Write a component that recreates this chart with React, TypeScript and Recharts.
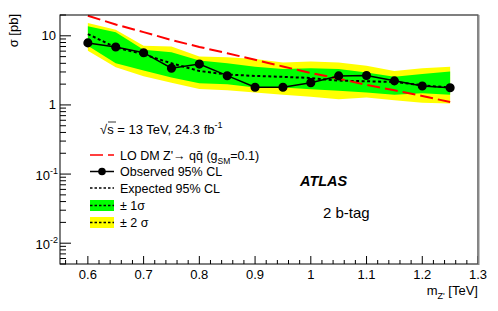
import React from 'react';
import { ComposedChart, Area, Line, XAxis, YAxis } from 'recharts';

const masses = [0.6, 0.65, 0.7, 0.75, 0.8, 0.85, 0.9, 0.95, 1.0, 1.05, 1.1, 1.15, 1.2, 1.25];
const observed = [7.9, 6.9, 5.7, 3.4, 3.9, 2.65, 1.8, 1.8, 2.1, 2.63, 2.67, 2.23, 1.88, 1.77];
const expected = [10.6, 6.8, 5.4, 4.0, 3.1, 2.75, 2.63, 2.55, 2.45, 2.25, 2.2, 2.15, 1.93, 1.78];
const oneSigmaUp = [13.7, 11.3, 6.3, 5.8, 4.4, 4.0, 3.56, 3.3, 3.4, 3.3, 2.95, 2.55, 2.8, 3.05];
const oneSigmaDown = [7.2, 4.0, 3.15, 2.5, 2.06, 2.0, 1.79, 1.79, 1.69, 1.6, 1.51, 1.4, 1.47, 1.4];
const twoSigmaUp = [15.3, 12.2, 7.2, 7.0, 5.0, 4.9, 4.6, 4.1, 4.25, 4.1, 3.7, 3.1, 3.4, 3.56];
const twoSigmaDown = [6.1, 3.5, 2.6, 2.1, 1.7, 1.63, 1.51, 1.4, 1.31, 1.21, 1.28, 1.17, 1.08, 1.05];
const theory = [19.5, 14.6, 11.3, 8.7, 6.9, 5.6, 4.5, 3.6, 2.9, 2.4, 1.95, 1.63, 1.35, 1.1];

const xMajor = [0.6, 0.7, 0.8, 0.9, 1.0, 1.1, 1.2, 1.3];
const xMajorLabels = ['0.6', '0.7', '0.8', '0.9', '1', '1.1', '1.2', '1.3'];
const xTicks = [0.56, 0.58, 0.6, 0.62, 0.64, 0.66, 0.68, 0.7, 0.72, 0.74, 0.76, 0.78, 0.8, 0.82, 0.84, 0.86, 0.88, 0.9,
  0.92, 0.94, 0.96, 0.98, 1.0, 1.02, 1.04, 1.06, 1.08, 1.1, 1.12, 1.14, 1.16, 1.18, 1.2, 1.22, 1.24, 1.26, 1.28, 1.3];
const yMajor = [0.01, 0.1, 1, 10];
const yTicks = [0.005, 0.006, 0.007, 0.008, 0.009, 0.01, 0.02, 0.03, 0.04, 0.05, 0.06, 0.07, 0.08, 0.09,
  0.1, 0.2, 0.3, 0.4, 0.5, 0.6, 0.7, 0.8, 0.9, 1, 2, 3, 4, 5, 6, 7, 8, 9, 10, 20];

const data = masses.map((m, i) => ({
  m,
  obs: observed[i],
  exp: expected[i],
  band1: [oneSigmaDown[i], oneSigmaUp[i]],
  band2: [twoSigmaDown[i], twoSigmaUp[i]],
  th: theory[i],
}));

const W = 498;
const H = 311;
const L = 60;
const R = 478;
const T = 15;
const B = 264;
const FONT = '"Liberation Sans", Arial, Helvetica, sans-serif';

const isMajor = (v: number, list: number[]) => list.some((t) => Math.abs(t - v) < 1e-9);

const BottomTick = (p: any) => {
  const v = p.payload.value;
  const x = p.payload.coordinate ?? p.x;
  const major = isMajor(v, xMajor);
  const idx = xMajor.findIndex((t) => Math.abs(t - v) < 1e-9);
  return (
    <g>
      <line x1={x} x2={x} y1={B} y2={B - (major ? 8 : 4)} stroke="#000" />
      {major && (
        <text x={x} y={B + 15} textAnchor="middle" fontSize={13} fontFamily={FONT} fill="#000">
          {xMajorLabels[idx]}
        </text>
      )}
    </g>
  );
};

const TopTick = (p: any) => {
  const v = p.payload.value;
  const x = p.payload.coordinate ?? p.x;
  const major = isMajor(v, xMajor);
  return <line x1={x} x2={x} y1={T} y2={T + (major ? 8 : 4)} stroke="#000" />;
};

const LeftTick = (p: any) => {
  const v = p.payload.value;
  const y = p.payload.coordinate ?? p.y;
  const major = isMajor(v, yMajor);
  let label: React.ReactNode = null;
  if (major) {
    if (v === 1) label = '1';
    else if (v === 10) label = '10';
    else {
      const e = Math.round(Math.log10(v));
      label = (
        <>
          10<tspan fontSize={9} dy={-6}>{e}</tspan>
        </>
      );
    }
  }
  const exp = major && v < 1;
  return (
    <g>
      <line x1={L} x2={L + (major ? 11 : 6)} y1={y} y2={y} stroke="#000" />
      {major && (
        <text x={exp ? 58 : 56} y={exp ? y + 6 : y + 4.5} textAnchor="end" fontSize={13} fontFamily={FONT} fill="#000">
          {label}
        </text>
      )}
    </g>
  );
};

const RightTick = (p: any) => {
  const v = p.payload.value;
  const y = p.payload.coordinate ?? p.y;
  const major = isMajor(v, yMajor);
  return <line x1={R} x2={R - (major ? 11 : 6)} y1={y} y2={y} stroke="#000" />;
};

const legendRows = [171.5, 188, 205.5, 222.5];

export default function App() {
  return (
    <div style={{ position: 'absolute', left: 0, top: 0, width: W, height: H, background: '#fff' }}>
      <ComposedChart width={W} height={H} data={data} margin={{ top: T, right: 0, bottom: 0, left: 0 }}>
        <XAxis
          dataKey="m"
          type="number"
          domain={[0.55, 1.3]}
          ticks={xTicks}
          interval={0}
          height={H - B}
          axisLine={false}
          tickLine={false}
          tick={<BottomTick />}
        />
        <XAxis
          xAxisId="top"
          orientation="top"
          dataKey="m"
          type="number"
          domain={[0.55, 1.3]}
          ticks={xTicks}
          interval={0}
          height={0}
          axisLine={false}
          tickLine={false}
          tick={<TopTick />}
        />
        <YAxis
          type="number"
          scale="log"
          domain={[0.005, 20]}
          ticks={yTicks}
          interval={0}
          width={L}
          axisLine={false}
          tickLine={false}
          tick={<LeftTick />}
        />
        <YAxis
          yAxisId="right"
          orientation="right"
          type="number"
          scale="log"
          domain={[0.005, 20]}
          ticks={yTicks}
          interval={0}
          width={W - R}
          axisLine={false}
          tickLine={false}
          tick={<RightTick />}
        />
        <Area type="linear" dataKey="band2" stroke="none" fill="#ffff00" fillOpacity={1} isAnimationActive={false} />
        <Area type="linear" dataKey="band1" stroke="none" fill="#00ff00" fillOpacity={1} isAnimationActive={false} />
        <Line type="linear" dataKey="exp" stroke="#000" strokeWidth={2} strokeDasharray="3 2.5" dot={false} isAnimationActive={false} />
        <Line type="linear" dataKey="th" stroke="#ff0000" strokeWidth={2} strokeDasharray="13 5" dot={false} isAnimationActive={false} />
        <Line
          type="linear"
          dataKey="obs"
          stroke="#000"
          strokeWidth={1.5}
          dot={{ r: 3.8, fill: '#000', stroke: '#000' }}
          isAnimationActive={false}
        />
      </ComposedChart>
      <svg width={W} height={H} style={{ position: 'absolute', left: 0, top: 0, pointerEvents: 'none' }} fontFamily={FONT}>
        <rect x={L} y={T} width={R - L} height={B - T} fill="none" stroke="#000" strokeWidth={1} />
        <line x1={R + 0.5} x2={R + 0.5} y1={T} y2={B + 1} stroke="#888" strokeWidth={2} />
        <text transform={`translate(18,14) rotate(-90)`} textAnchor="end" fontSize={13} fill="#000">σ [pb]</text>
        <text x={R} y={295} textAnchor="end" fontSize={13} fill="#000">
          m<tspan fontSize={9} dy={4}>Z'</tspan><tspan dy={-4}> [TeV]</tspan>
        </text>
        <text x={100} y={134} fontSize={13} fill="#000">
          √s = 13 TeV, 24.3 fb<tspan fontSize={9} dy={-6}>-1</tspan>
        </text>
        <line x1={108} x2={116} y1={122} y2={122} stroke="#000" strokeWidth={0.8} />

        <line x1={90} x2={114} y1={155} y2={155} stroke="#ff0000" strokeWidth={1.5} strokeDasharray="13 5" />
        <text x={120} y={159.5} fontSize={12.5} fill="#000">
          {"LO DM Z'→ qq\u0304 (g"}<tspan fontSize={8.5} dy={4}>SM</tspan><tspan dy={-4}>=0.1)</tspan>
        </text>

        <line x1={90} x2={114} y1={legendRows[0]} y2={legendRows[0]} stroke="#000" strokeWidth={1.5} />
        <circle cx={102} cy={legendRows[0]} r={3.8} fill="#000" />
        <text x={120} y={legendRows[0] + 4.5} fontSize={12.5} fill="#000">Observed 95% CL</text>

        <line x1={90} x2={114} y1={legendRows[1]} y2={legendRows[1]} stroke="#000" strokeWidth={1.5} strokeDasharray="2.5 2" />
        <text x={120} y={legendRows[1] + 4.5} fontSize={12.5} fill="#000">Expected 95% CL</text>

        <rect x={90} y={legendRows[2] - 5.5} width={24} height={11} fill="#00ff00" />
        <line x1={90} x2={114} y1={legendRows[2]} y2={legendRows[2]} stroke="#000" strokeWidth={1.5} strokeDasharray="2.5 2" />
        <text x={120} y={legendRows[2] + 4.5} fontSize={12.5} fill="#000">± 1σ</text>

        <rect x={90} y={legendRows[3] - 5.5} width={24} height={11} fill="#ffff00" />
        <line x1={90} x2={114} y1={legendRows[3]} y2={legendRows[3]} stroke="#000" strokeWidth={1.5} strokeDasharray="2.5 2" />
        <text x={120} y={legendRows[3] + 4.5} fontSize={12.5} fill="#000">± 2 σ</text>

        <text x={300} y={186} fontSize={14.5} fontWeight="bold" fontStyle="italic" fill="#000">ATLAS</text>
        <text x={323} y={218} fontSize={15} fill="#000">2 b-tag</text>
      </svg>
    </div>
  );
}
